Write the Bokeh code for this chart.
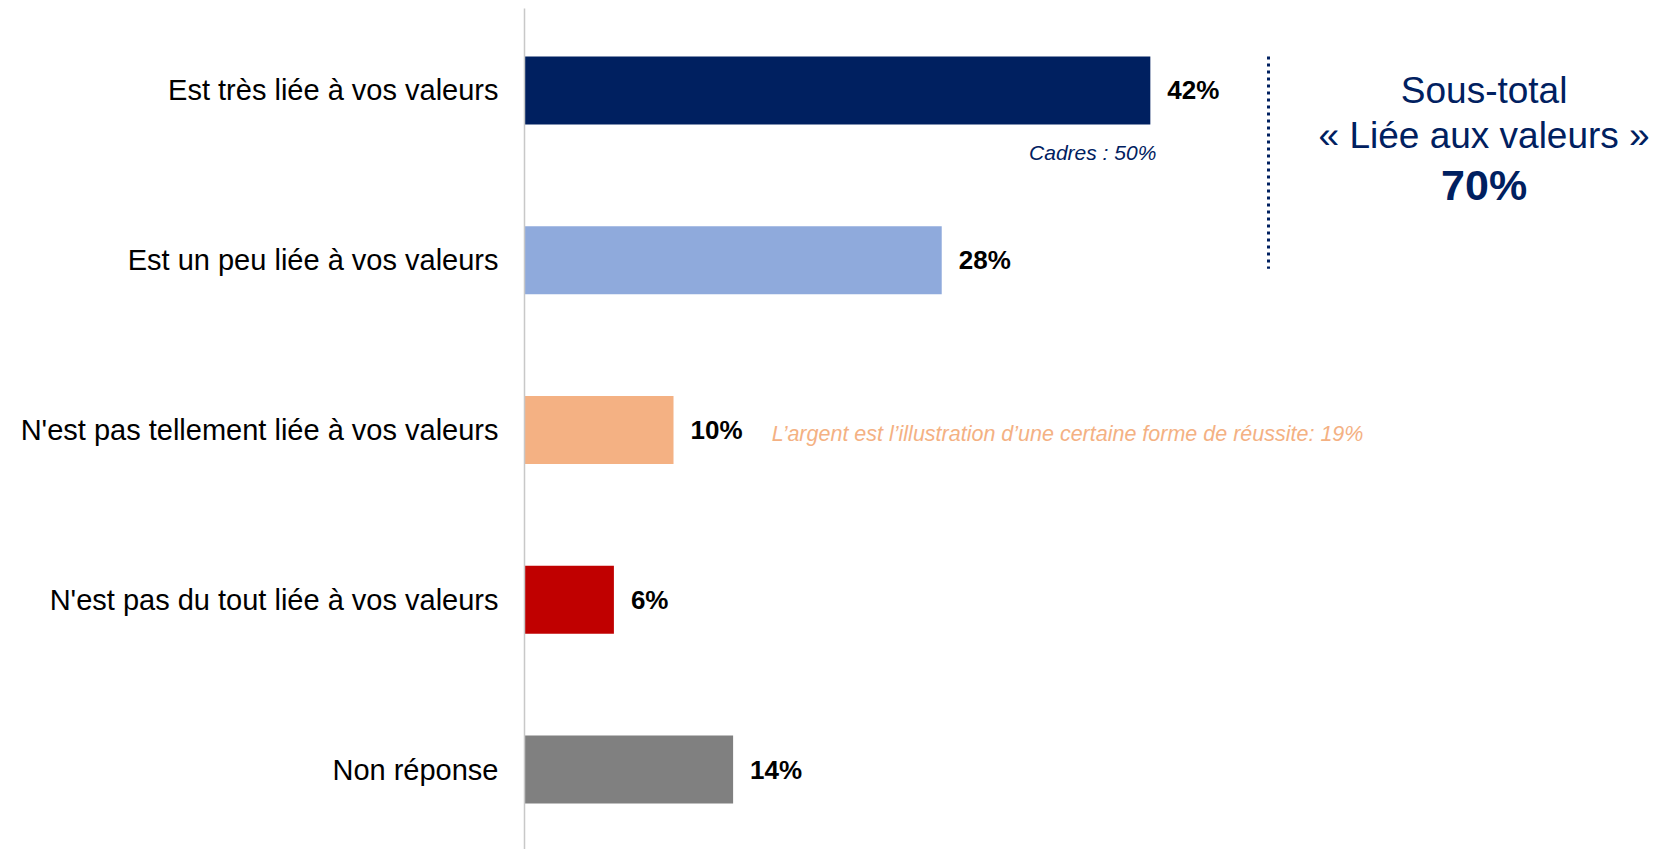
from bokeh.plotting import figure
from bokeh.models import ColumnDataSource, Range1d, FixedTicker
from bokeh.core.properties import value
from bokeh.embed import file_html
from bokeh.resources import INLINE

categories = [
    "Est très liée à vos valeurs",
    "Est un peu liée à vos valeurs",
    "N'est pas tellement liée à vos valeurs",
    "N'est pas du tout liée à vos valeurs",
    "Non réponse",
]
values = [42, 28, 10, 6, 14]
colors = ["#002060", "#8FAADC", "#F4B183", "#C00000", "#808080"]
value_labels = ["42%", "28%", "10%", "6%", "14%"]
subtotal_lines = ["Sous-total", "« Liée aux valeurs »", "70%"]
note_cadres = "Cadres : 50%"
note_argent = "L\u2019argent est l\u2019illustration d\u2019une certaine forme de réussite: 19%"

FONT = "Liberation Sans"
n = len(categories)
ypos = [n - 1 - i for i in range(n)]

src = ColumnDataSource(dict(y=ypos, v=values, c=colors, lab=value_labels))

p = figure(width=1652, height=849, output_backend="svg", toolbar_location=None,
           x_range=Range1d(0, 75.7), y_range=Range1d(-0.471, 4.483),
           min_border_left=524, min_border_right=0, min_border_top=8, min_border_bottom=0)
p.outline_line_color = None
p.grid.visible = False
p.xaxis.visible = False

p.hbar(y="y", right="v", left=0, height=0.4, fill_color="c", line_color=None, source=src)
p.text(x="v", y="y", text="lab", source=src, x_offset=17, text_align="left",
       text_baseline="middle", text_font=value(FONT), text_font_size="26px",
       text_font_style="bold", text_color="#000000")

yax = p.yaxis[0]
yax.ticker = FixedTicker(ticks=ypos)
yax.major_label_overrides = {y: c for y, c in zip(ypos, categories)}
yax.major_label_text_font = FONT
yax.major_label_text_font_size = "29px"
yax.major_label_text_color = "#000000"
yax.major_label_standoff = 20
yax.major_tick_line_color = None
yax.minor_tick_line_color = None
yax.axis_line_color = "#C8C8C8"
yax.axis_line_width = 1.5

# annotations
p.text(x=[42.4], y=[3.635], text=[note_cadres], text_align="right", text_baseline="middle",
       text_font=value(FONT), text_font_size="21px", text_font_style="italic", text_color="#002060")
p.text(x=[16.6], y=[1.975], text=[note_argent], text_align="left", text_baseline="middle",
       text_font=value(FONT), text_font_size="21.5px", text_font_style="italic", text_color="#F4B183")

p.segment(x0=[49.93], y0=[4.2], x1=[49.93], y1=[2.95], line_color="#002060",
          line_width=3, line_dash="3 4")

p.text(x=[64.4, 64.4], y=[4.0, 3.735], text=subtotal_lines[:2], text_align="center",
       text_baseline="middle", text_font=value(FONT), text_font_size="37px", text_color="#002060")
p.text(x=[64.4], y=[3.446], text=subtotal_lines[2:], text_align="center",
       text_baseline="middle", text_font=value(FONT), text_font_size="43px",
       text_font_style="bold", text_color="#002060")

open("out.html", "w").write(file_html(p, INLINE))
